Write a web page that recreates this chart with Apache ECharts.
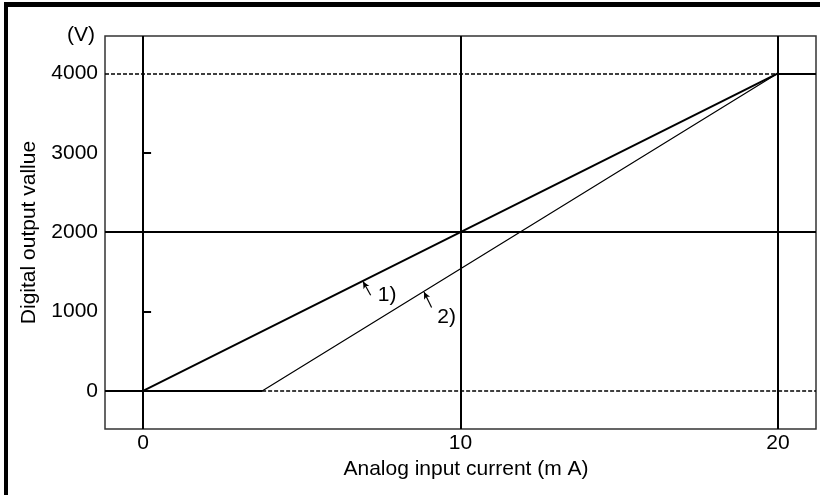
<!DOCTYPE html>
<html>
<head>
<meta charset="utf-8">
<script src="https://cdn.jsdelivr.net/npm/echarts@6/dist/echarts.min.js"></script>
<style>
html,body{margin:0;padding:0;background:#fff;}
#chart{width:820px;height:495px;}
</style>
</head>
<body>
<div id="chart"></div>
<script>
// ---- data ----
const xTickLabels = [0, 10, 20];
const yTickLabels = [0, 1000, 2000, 3000, 4000];
const yMinorTicks = [1000, 3000];
const xRange = [-1.2, 21.2];
const yRange = [-480, 4470];
const line1 = [[0, 0], [20, 4000]];
const line2Start = 3.75;
const line2 = [[0, 0], [line2Start, 0], [20, 4000]];
const arrow1 = [[7.17, 1205], [6.93, 1378]];
const arrow2 = [[9.09, 1050], [8.85, 1245]];
const labels = [[7.69, 1205, '1)'], [9.56, 922, '2)']];
const xTitle = 'Analog input current (m A)';
const yTitle = 'Digital output vallue';
const yUnit = '(V)';

const FONT = 'Liberation Sans, Arial, sans-serif';
const FS = 21;
const chart = echarts.init(document.getElementById('chart'), null, {renderer: 'canvas'});

const solid2 = {color: '#000', width: 2, type: 'solid'};
const dashed = {color: '#000', width: 1.5, type: [4, 2]};

const refLines = [];
xTickLabels.forEach(v => refLines.push({xAxis: v, lineStyle: solid2}));
refLines.push({yAxis: 2000, lineStyle: solid2});
refLines.push([{coord: [xRange[0], 4000], lineStyle: dashed}, {coord: [20, 4000]}]);
refLines.push([{coord: [20, 4000], lineStyle: solid2}, {coord: [xRange[1], 4000]}]);
refLines.push([{coord: [xRange[0], 0], lineStyle: solid2}, {coord: [line2Start, 0]}]);
refLines.push([{coord: [line2Start, 0], lineStyle: dashed}, {coord: [xRange[1], 0]}]);

const arrowStyle = {color: '#000', width: 1.2, type: 'solid'};
const arrows = [arrow1, arrow2].map(a => [
  {coord: a[0], lineStyle: arrowStyle, symbol: 'none'},
  {coord: a[1], symbol: 'arrow', symbolSize: [5, 7]}
]);

const labelPoints = labels.map(l => ({
  coord: [l[0], l[1]], value: l[2],
  label: {show: true, formatter: l[2], position: 'inside', fontSize: FS, fontFamily: FONT, color: '#000', fontWeight: 'normal', textBorderWidth: 0, opacity: 1}
}));

chart.setOption({
  animation: false,
  backgroundColor: '#fff',
  grid: {left: 105, top: 36, width: 711, height: 393, show: true, borderColor: '#333', borderWidth: 1.5, backgroundColor: 'transparent'},
  xAxis: {
    type: 'value', min: xRange[0], max: xRange[1],
    axisLine: {show: false},
    axisTick: {show: false},
    splitLine: {show: false},
    axisLabel: {customValues: xTickLabels, fontSize: FS, fontFamily: FONT, color: '#000', margin: 4, formatter: v => String(v)},
    name: xTitle, nameLocation: 'middle', nameGap: 27,
    nameTextStyle: {fontSize: FS, fontFamily: FONT, color: '#000', padding: [0, 0, 0, 11]}
  },
  yAxis: {
    type: 'value', min: yRange[0], max: yRange[1],
    axisLine: {show: false},
    axisTick: {show: true, inside: true, length: 8, customValues: yMinorTicks, lineStyle: {color: '#000', width: 2}},
    splitLine: {show: false},
    axisLabel: {customValues: yTickLabels, fontSize: FS, fontFamily: FONT, color: '#000', margin: 7, formatter: v => String(v)},
    name: yTitle, nameLocation: 'middle', nameGap: 59, nameRotate: 90,
    nameTextStyle: {fontSize: FS, fontFamily: FONT, color: '#000', padding: [0, 0, 6, 0]}
  },
  graphic: [
    {type: 'rect', shape: {x: 4, y: 2, width: 816, height: 5}, style: {fill: '#000'}},
    {type: 'rect', shape: {x: 4, y: 2, width: 4, height: 493}, style: {fill: '#000'}},
    {type: 'text', left: 67, top: 25, style: {text: yUnit, font: FS + 'px ' + FONT, fill: '#000'}}
  ],
  series: [
    {
      type: 'line', data: line1, showSymbol: false, symbol: 'none',
      lineStyle: {color: '#000', width: 2}, z: 5,
      markLine: {silent: true, symbol: 'none', label: {show: false}, animation: false, data: refLines}
    },
    {
      type: 'line', data: line2, showSymbol: false, symbol: 'none',
      lineStyle: {color: '#000', width: 1.2}, z: 5,
      markLine: {silent: true, label: {show: false}, animation: false, data: arrows},
      markPoint: {silent: true, symbol: 'circle', symbolSize: 0, itemStyle: {color: '#000', opacity: 1}, animation: false, data: labelPoints}
    }
  ]
});
</script>
</body>
</html>
